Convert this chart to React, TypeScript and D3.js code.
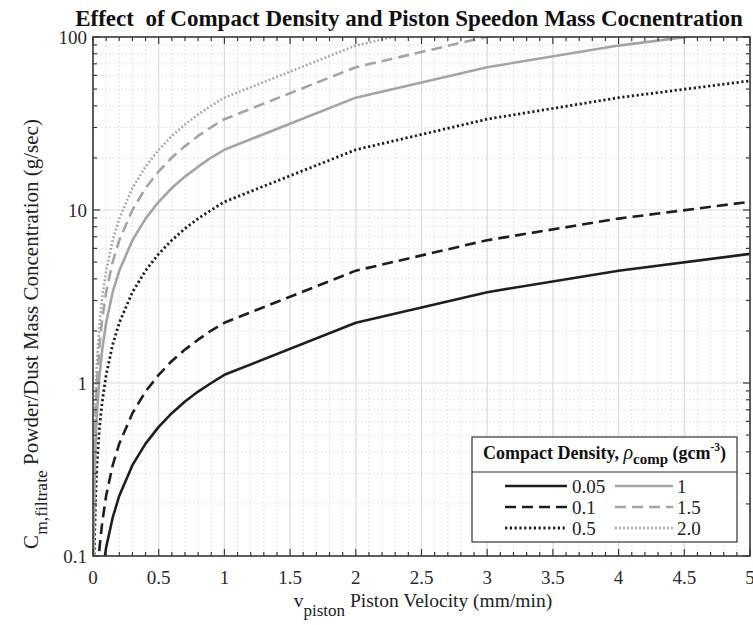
import React from "react";
import * as d3 from "d3";

// Piston velocity samples (mm/min)
const velocity = [0.002, 0.005, 0.01, 0.02, 0.03, 0.05, 0.07, 0.1, 0.15, 0.2, 0.3, 0.4, 0.5, 0.6, 0.7, 0.8, 0.9, 1, 2, 3, 4, 5];

// Mass concentration (g/sec) for each compact density
const conc005 = [0.0022, 0.0056, 0.011, 0.022, 0.033, 0.056, 0.078, 0.112, 0.167, 0.223, 0.335, 0.446, 0.558, 0.669, 0.781, 0.892, 1.0, 1.115, 2.23, 3.35, 4.46, 5.58];
const conc01 = [0.0045, 0.011, 0.022, 0.045, 0.067, 0.112, 0.156, 0.223, 0.335, 0.446, 0.669, 0.892, 1.115, 1.34, 1.56, 1.78, 2.01, 2.23, 4.46, 6.69, 8.92, 11.15];
const conc05 = [0.022, 0.056, 0.112, 0.223, 0.335, 0.558, 0.78, 1.115, 1.67, 2.23, 3.35, 4.46, 5.58, 6.69, 7.81, 8.92, 10.0, 11.15, 22.3, 33.5, 44.6, 55.8];
const conc1 = [0.045, 0.112, 0.223, 0.446, 0.669, 1.115, 1.56, 2.23, 3.35, 4.46, 6.69, 8.92, 11.15, 13.4, 15.6, 17.8, 20.1, 22.3, 44.6, 66.9, 89.2, 111.5];
const conc15 = [0.067, 0.167, 0.335, 0.669, 1.0, 1.67, 2.34, 3.35, 5.02, 6.69, 10.0, 13.4, 16.7, 20.1, 23.4, 26.8, 30.1, 33.5, 66.9, 100.4, 133.8, 167.3];
const conc20 = [0.089, 0.223, 0.446, 0.892, 1.34, 2.23, 3.12, 4.46, 6.69, 8.92, 13.4, 17.8, 22.3, 26.8, 31.2, 35.7, 40.1, 44.6, 89.2, 133.8, 178.4, 223];

const densityLabels = ["0.05", "0.1", "0.5", "1", "1.5", "2.0"];

const xTickLabels = ["0", "0.5", "1", "1.5", "2", "2.5", "3", "3.5", "4", "4.5", "5"];
const yTickLabels = ["0.1", "1", "10", "100"];

const FONT = "Liberation Serif, Tinos, Times New Roman, DejaVu Serif, serif";
const DARK = "#1e1e1e";
const GREY = "#a4a4a4";

const seriesStyle = [
  { data: conc005, color: DARK, width: 2.6, dash: "none" },
  { data: conc01, color: DARK, width: 2.6, dash: "11,6" },
  { data: conc05, color: DARK, width: 2.8, dash: "2.2,2.6" },
  { data: conc1, color: GREY, width: 2.6, dash: "none" },
  { data: conc15, color: GREY, width: 2.6, dash: "11,6" },
  { data: conc20, color: GREY, width: 2.5, dash: "1.8,2.2" },
];

const W = 753;
const H = 625;
const M = { left: 93, right: 750, top: 37, bottom: 556 };

export default function App() {
  const x = d3.scaleLinear().domain([0, 5]).range([M.left, M.right]);
  const y = d3.scaleLog().domain([0.1, 100]).range([M.bottom, M.top]);

  const line = d3
    .line<[number, number]>()
    .x((d) => x(d[0]))
    .y((d) => y(d[1]));

  const xMajor = d3.range(0, 5.0001, 0.5);
  const xMinor = d3.range(0, 5.0001, 0.1).filter((v) => Math.abs(v * 2 - Math.round(v * 2)) > 1e-6);
  const yMajor = [0.1, 1, 10, 100];
  const yMinor: number[] = [];
  [0.1, 1, 10].forEach((dec) => {
    for (let k = 2; k <= 9; k++) yMinor.push(dec * k);
  });

  const axisColor = "#3a3a3a";
  const tickFs = 19;

  // legend geometry
  const lg = { x0: 472, x1: 737, y0: 437, sep: 472, y1: 542 };
  const rowsY = [486, 507, 528];
  const cols = [
    { lx0: 505, lx1: 567, tx: 572 },
    { lx0: 615, lx1: 673, tx: 677 },
  ];

  return (
    <svg
      width={W}
      height={H}
      style={{ display: "block", position: "absolute", left: 0, top: 0, fontFamily: FONT }}
    >
      <rect x={0} y={0} width={W} height={H} fill="#fff" />
      <defs>
        <clipPath id="plotClip">
          <rect x={M.left} y={M.top} width={M.right - M.left} height={M.bottom - M.top} />
        </clipPath>
      </defs>

      {/* minor grid */}
      <g stroke="#e4e4e4" strokeWidth={1} strokeDasharray="2,2">
        {xMinor.map((v, i) => (
          <line key={"xm" + i} x1={x(v)} x2={x(v)} y1={M.top} y2={M.bottom} />
        ))}
        {yMinor.map((v, i) => (
          <line key={"ym" + i} x1={M.left} x2={M.right} y1={y(v)} y2={y(v)} />
        ))}
      </g>
      {/* major grid */}
      <g stroke="#dcdcdc" strokeWidth={1.2}>
        {xMajor.map((v, i) => (
          <line key={"xM" + i} x1={x(v)} x2={x(v)} y1={M.top} y2={M.bottom} />
        ))}
        {yMajor.map((v, i) => (
          <line key={"yM" + i} x1={M.left} x2={M.right} y1={y(v)} y2={y(v)} />
        ))}
      </g>

      {/* curves */}
      <g clipPath="url(#plotClip)" fill="none">
        {seriesStyle.map((s, i) => (
          <path
            key={i}
            d={line(velocity.map((v, j) => [v, s.data[j]] as [number, number])) || ""}
            stroke={s.color}
            strokeWidth={s.width}
            strokeDasharray={s.dash}
            strokeLinejoin="round"
          />
        ))}
      </g>

      {/* ticks */}
      <g stroke={axisColor} strokeWidth={1.2}>
        {xMajor.map((v, i) => (
          <g key={"xt" + i}>
            <line x1={x(v)} x2={x(v)} y1={M.bottom} y2={M.bottom - 7} />
            <line x1={x(v)} x2={x(v)} y1={M.top} y2={M.top + 7} />
          </g>
        ))}
        {xMinor.map((v, i) => (
          <g key={"xmt" + i}>
            <line x1={x(v)} x2={x(v)} y1={M.bottom} y2={M.bottom - 4} />
            <line x1={x(v)} x2={x(v)} y1={M.top} y2={M.top + 4} />
          </g>
        ))}
        {yMajor.map((v, i) => (
          <g key={"yt" + i}>
            <line x1={M.left} x2={M.left + 7} y1={y(v)} y2={y(v)} />
            <line x1={M.right} x2={M.right - 7} y1={y(v)} y2={y(v)} />
          </g>
        ))}
        {yMinor.map((v, i) => (
          <g key={"ymt" + i}>
            <line x1={M.left} x2={M.left + 4} y1={y(v)} y2={y(v)} />
            <line x1={M.right} x2={M.right - 4} y1={y(v)} y2={y(v)} />
          </g>
        ))}
      </g>

      {/* axes box */}
      <rect
        x={M.left}
        y={M.top}
        width={M.right - M.left}
        height={M.bottom - M.top}
        fill="none"
        stroke={axisColor}
        strokeWidth={1.6}
      />

      {/* tick labels */}
      <g fill="#2a2a2a" fontSize={tickFs} style={{ fontFamily: FONT }}>
        {xTickLabels.map((t) => (
          <text key={"xl" + t} x={x(+t)} y={M.bottom + 28} textAnchor="middle">
            {t}
          </text>
        ))}
        {yTickLabels.map((t) => (
          <text key={"yl" + t} x={M.left - 6} y={y(+t)} dy="0.35em" textAnchor="end">
            {t}
          </text>
        ))}
      </g>

      {/* title */}
      <text
        x={409}
        y={26}
        textAnchor="middle"
        fontSize={23}
        fontWeight="bold"
        fill="#111"
        xmlSpace="preserve"
        style={{ fontFamily: FONT, whiteSpace: "pre" }}
      >
        {"Effect  of Compact Density and Piston Speedon Mass Cocnentration"}
      </text>

      {/* x label */}
      <text x={423} y={607} textAnchor="middle" fontSize={19.5} fill="#222" style={{ fontFamily: FONT }}>
        <tspan>v</tspan>
        <tspan fontSize={17} dy={9}>piston</tspan>
        <tspan dy={-9}> Piston Velocity (mm/min)</tspan>
      </text>

      {/* y label */}
      <text
        transform={`translate(38, 334) rotate(-90)`}
        textAnchor="middle"
        fontSize={21}
        fill="#222"
        style={{ fontFamily: FONT }}
      >
        <tspan>C</tspan>
        <tspan fontSize={17.5} dy={9}>m,filtrate</tspan>
        <tspan dy={-9}> Powder/Dust Mass Concentration (g/sec)</tspan>
      </text>

      {/* legend */}
      <g style={{ fontFamily: FONT }}>
        <rect x={lg.x0} y={lg.y0} width={lg.x1 - lg.x0} height={lg.y1 - lg.y0} fill="#fff" stroke="#333" strokeWidth={1.2} />
        <line x1={lg.x0} x2={lg.x1} y1={lg.sep} y2={lg.sep} stroke="#333" strokeWidth={1.2} />
        <text x={(lg.x0 + lg.x1) / 2} y={459} textAnchor="middle" fontSize={18} fontWeight="bold" fill="#111">
          <tspan>Compact Density, </tspan>
          <tspan fontStyle="italic" fontWeight="normal" fontSize={20}>ρ</tspan>
          <tspan fontSize={15} dy={5}>comp</tspan>
          <tspan dy={-5}>{" (gcm"}</tspan>
          <tspan fontSize={11.5} dy={-8}>-3</tspan>
          <tspan dy={8}>)</tspan>
        </text>
        {seriesStyle.map((s, i) => {
          const col = cols[Math.floor(i / 3)];
          const ry = rowsY[i % 3];
          return (
            <g key={"lg" + i}>
              <line
                x1={col.lx0}
                x2={col.lx1}
                y1={ry}
                y2={ry}
                stroke={s.color}
                strokeWidth={s.width}
                strokeDasharray={s.dash}
              />
              <text x={col.tx} y={ry} dy="0.35em" fontSize={19} fill="#222">
                {densityLabels[i]}
              </text>
            </g>
          );
        })}
      </g>
    </svg>
  );
}
